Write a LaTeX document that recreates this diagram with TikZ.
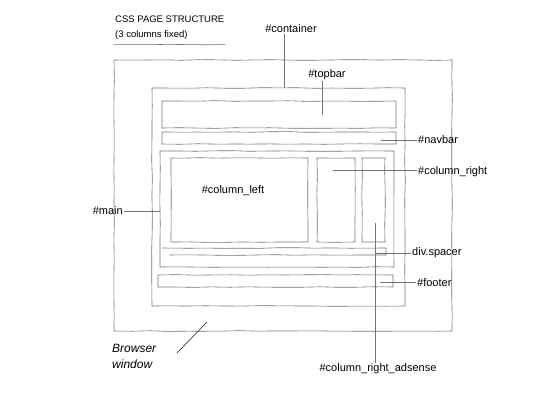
\documentclass[tikz,border=0pt]{standalone}
\usepackage{fontspec}
\setmainfont{Liberation Sans}
\usetikzlibrary{positioning, decorations.pathmorphing}
\tikzstyle{pencil} = [draw=black!55, line width=0.6pt, decorate, decoration={random steps, segment length=18pt, amplitude=0.35pt}]
\tikzstyle{box} = [rectangle, pencil, inner sep=0pt]
\tikzstyle{lbl} = [inner sep=1pt, font=\fontsize{11}{13}\selectfont, text=black]
\tikzstyle{leader} = [draw=black!55, line width=0.5pt]

\begin{document}
\begin{tikzpicture}[x=1pt, y=-1pt]
  \useasboundingbox (0,0) rectangle (560,400);

  % title
  \node[lbl, anchor=west, font=\fontsize{9.5}{11}\selectfont] (title) at (114,19) {CSS PAGE STRUCTURE};
  \node[lbl, anchor=west, font=\fontsize{9.5}{11}\selectfont] (subtitle) at (114,35) {(3 columns fixed)};
  \draw[pencil] (subtitle.south west) ++(0,4) coordinate (ul) -- (ul -| title.east);

  % boxes
  \node[box, minimum width=338, minimum height=271] (browser) at (283,195.5) {};
  \node[box, minimum width=253, minimum height=218] (container) at (278.5,197) {};
  \node[box, minimum width=234, minimum height=27] (topbar) at (279,114.5) {};
  \node[box, minimum width=234, minimum height=12] (navbar) at (279,138) {};
  \node[box, minimum width=234, minimum height=116] (main) at (277,209) {};
  \node[box, minimum width=137, minimum height=84] (colleft) at (239.5,200) {};
  \node[box, minimum width=38, minimum height=84] (colright) at (336,200) {};
  \node[box, minimum width=23, minimum height=84] (adsense) at (373.5,200) {};
  \node[box, minimum width=217, minimum height=7] (spacer) at (277.5,251.5) {};
  \node[box, minimum width=235, minimum height=12] (footer) at (275.5,281) {};

  % labels
  \node[lbl] (containerlbl) at (291,29) {\#container};
  \node[lbl] (topbarlbl) at (327,75) {\#topbar};
  \node[lbl, anchor=west] (navbarlbl) at (417,140) {\#navbar};
  \node[lbl, anchor=west] (colrightlbl) at (417,172) {\#column\_right};
  \node[lbl] (colleftlbl) at (233,191) {\#column\_left};
  \node[lbl, anchor=east] (mainlbl) at (124,211) {\#main};
  \node[lbl, anchor=west] (spacerlbl) at (411,253) {div.spacer};
  \node[lbl, anchor=west] (footerlbl) at (416,283) {\#footer};
  \node[lbl] (adsenselbl) at (378,369) {\#column\_right\_adsense};
  \node[anchor=west, align=left, inner sep=0pt, font=\itshape\large, text=black] (browserlbl) at (112,356) {Browser\\[2pt] window};

  % leader ends
  \coordinate (containerend) at (284,88);
  \coordinate (topbarend) at (322,115);
  \coordinate (navbarend) at (381,140);
  \coordinate (colrightend) at (333,170);
  \coordinate (mainend) at (160,211);
  \coordinate (spacerend) at (375,253);
  \coordinate (footerend) at (380,282);
  \coordinate (adsenseend) at (375,223);
  \coordinate (browserend) at (207,322);
  \coordinate (browserstart) at (177,353);

  \draw[leader] (containerlbl.south -| containerend) -- (containerend);
  \draw[leader] (topbarlbl.south -| topbarend) -- (topbarend);
  \draw[leader] (navbarend) -- (navbarlbl.west |- navbarend);
  \draw[leader] (colrightend) -- (colrightlbl.west |- colrightend);
  \draw[leader] (mainlbl.east) -- (mainend);
  \draw[leader] (spacerend) -- (spacerlbl.west);
  \draw[leader] (footerend) -- (footerlbl.west |- footerend);
  \draw[leader] (adsenseend) -- (adsenselbl.north -| adsenseend);
  \draw[leader, line width=0.7pt, draw=black!75] (browserstart) -- (browserend);

\end{tikzpicture}
\end{document}
